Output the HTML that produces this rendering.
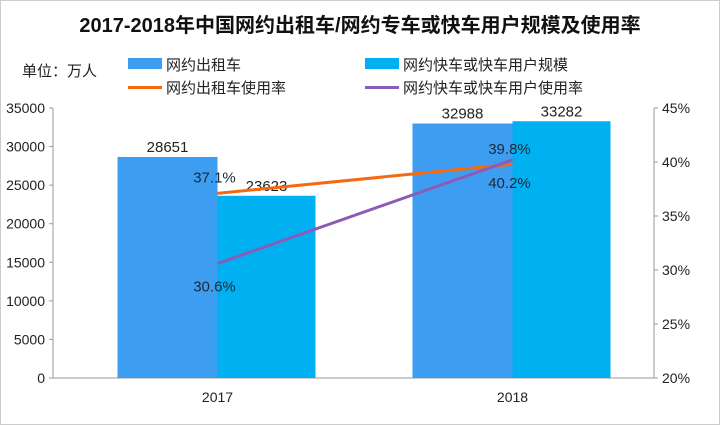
<!DOCTYPE html>
<html><head><meta charset="utf-8"><style>
body{margin:0;background:#fff;}
svg{display:block;font-family:"Liberation Sans","Noto Sans CJK SC",sans-serif;}
</style></head><body>
<svg id="c" width="720" height="425">
<rect x="0.5" y="0.5" width="719" height="424" fill="#fff" stroke="#ccc"/>
<text x="360" y="32" text-anchor="middle" font-size="20" font-weight="bold" fill="#111">2017-2018年中国网约出租车/网约专车或快车用户规模及使用率</text>
<text x="22" y="76" font-size="15" fill="#222">单位：万人</text>
<g>
<rect x="128" y="58" width="34" height="11" fill="#3d9df0"/>
<text x="166" y="70" font-size="15" fill="#222">网约出租车</text>
<rect x="365" y="58" width="34" height="11" fill="#00b0f0"/>
<text x="403" y="70" font-size="15" fill="#222">网约快车或快车用户规模</text>
<rect x="128" y="86" width="34" height="3" fill="#f56a10"/>
<text x="166" y="93" font-size="15" fill="#222">网约出租车使用率</text>
<rect x="365" y="86" width="34" height="3" fill="#8a5cb8"/>
<text x="403" y="93" font-size="15" fill="#222">网约快车或快车用户使用率</text>
</g>
<g id="plot"></g>
</svg>
<script>
const categories=["2017","2018"];
const taxiUsers=[28651,32988];
const expressUsers=[23623,33282];
const taxiRate=[37.1,39.8];
const expressRate=[30.6,40.2];
const leftTicks=[0,5000,10000,15000,20000,25000,30000,35000];
const rightTicks=[20,25,30,35,40,45];
const X0=70,BAND=295,Y0=378,Y1=108;
const yL=v=>Y0-(v/35000)*(Y0-Y1);
const yR=v=>Y0-((v-20)/25)*(Y0-Y1);
const cx=i=>X0+BAND*i+BAND/2;
const g=document.getElementById('plot');
const NS="http://www.w3.org/2000/svg";
function mk(t,a,txt){const e=document.createElementNS(NS,t);for(const k in a)e.setAttribute(k,a[k]);if(txt!=null)e.textContent=txt;g.appendChild(e);return e;}
// axes
let e=mk('line',{x1:53,y1:Y1,x2:53,y2:Y0,stroke:'#999'});


e=mk('line',{x1:654,y1:Y1,x2:654,y2:Y0,stroke:'#999'});


e=mk('line',{x1:53,y1:Y0,x2:654,y2:Y0,stroke:'#999'});


leftTicks.forEach(v=>{const y=yL(v);
 mk('line',{x1:49,y1:y,x2:53,y2:y,stroke:'#999'});
 const t=mk('text',{x:45,y:y+5,'text-anchor':'end','font-size':14,fill:'#222'},v);
 
 });
rightTicks.forEach(v=>{const y=yR(v);
 mk('line',{x1:654,y1:y,x2:658,y2:y,stroke:'#999'});
 const t=mk('text',{x:662,y:y+5,'font-size':14,fill:'#222'},v+'%');
 
 });
categories.forEach((c,i)=>{
 const x=cx(i);
 let b=mk('rect',{x:x-100,y:yL(taxiUsers[i]),width:100,height:Y0-yL(taxiUsers[i]),fill:'#3d9df0'});
 
 
 b=mk('rect',{x:x,y:yL(expressUsers[i]),width:98,height:Y0-yL(expressUsers[i]),fill:'#00b0f0'});
 
 
 let t=mk('text',{x:x-50,y:yL(taxiUsers[i])-5,'text-anchor':'middle','font-size':15,fill:'#222'},taxiUsers[i]);
 
 
 t=mk('text',{x:x+49,y:yL(expressUsers[i])-5,'text-anchor':'middle','font-size':15,fill:'#222'},expressUsers[i]);
 
 
 t=mk('text',{x:x,y:402,'text-anchor':'middle','font-size':14,fill:'#222'},c);
 
 
});
let l=mk('polyline',{points:categories.map((c,i)=>cx(i)+','+yR(taxiRate[i])).join(' '),fill:'none',stroke:'#f56a10','stroke-width':3});


l=mk('polyline',{points:categories.map((c,i)=>cx(i)+','+yR(expressRate[i])).join(' '),fill:'none',stroke:'#8a5cb8','stroke-width':3});


let t=mk('text',{x:cx(0)-3,y:yR(taxiRate[0])-11,'text-anchor':'middle','font-size':15,fill:'#1a2a3a'},taxiRate[0].toFixed(1)+'%');


t=mk('text',{x:cx(1)-3,y:yR(taxiRate[1])-10,'text-anchor':'middle','font-size':15,fill:'#1a2a3a'},taxiRate[1].toFixed(1)+'%');


t=mk('text',{x:cx(0)-3,y:yR(expressRate[0])+28,'text-anchor':'middle','font-size':15,fill:'#1a2a3a'},expressRate[0].toFixed(1)+'%');


t=mk('text',{x:cx(1)-3,y:yR(expressRate[1])+28,'text-anchor':'middle','font-size':15,fill:'#1a2a3a'},expressRate[1].toFixed(1)+'%');


</script>
</body></html>
